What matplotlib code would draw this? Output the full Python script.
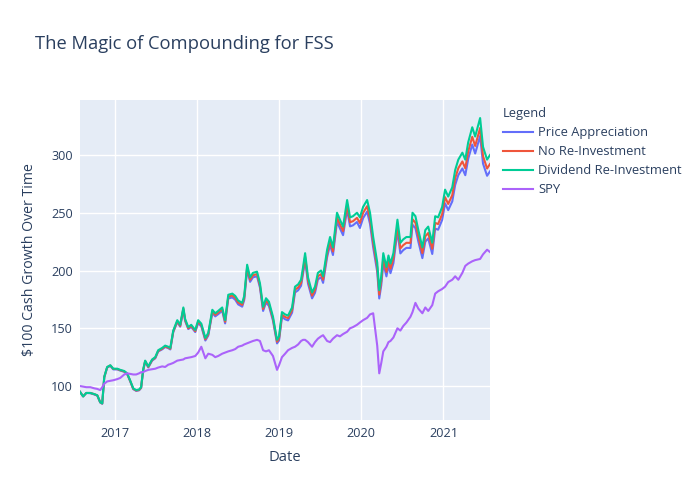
import matplotlib
matplotlib.use("Agg")
import matplotlib.pyplot as plt
import matplotlib.dates as mdates
import pandas as pd

plt.rcParams['font.family'] = ['Open Sans', 'DejaVu Sans']

dates = [
    "2016-07-28", "2016-08-11", "2016-08-25", "2016-09-12", "2016-09-30", "2016-10-13", "2016-10-26",
    "2016-11-04", "2016-11-13", "2016-11-26", "2016-12-10", "2016-12-23", "2017-01-10", "2017-01-23",
    "2017-02-10", "2017-02-23", "2017-03-08", "2017-03-22", "2017-04-04", "2017-04-17", "2017-04-26",
    "2017-05-05", "2017-05-14", "2017-05-28", "2017-06-14", "2017-06-28", "2017-07-11", "2017-07-29",
    "2017-08-11", "2017-08-25", "2017-09-03", "2017-09-16", "2017-10-04", "2017-10-17", "2017-10-31",
    "2017-11-08", "2017-11-22", "2017-12-05", "2017-12-23", "2018-01-05", "2018-01-19", "2018-02-06",
    "2018-02-19", "2018-03-09", "2018-03-22", "2018-04-04", "2018-04-22", "2018-05-05", "2018-05-19",
    "2018-06-06", "2018-06-19", "2018-07-02", "2018-07-20", "2018-07-29", "2018-08-11", "2018-08-24",
    "2018-09-06", "2018-09-24", "2018-10-07", "2018-10-21", "2018-11-03", "2018-11-16", "2018-12-04",
    "2018-12-22", "2018-12-31", "2019-01-13", "2019-01-27", "2019-02-09", "2019-02-27", "2019-03-12",
    "2019-03-26", "2019-04-08", "2019-04-17", "2019-04-26", "2019-05-09", "2019-05-27", "2019-06-09",
    "2019-06-22", "2019-07-06", "2019-07-15", "2019-08-02", "2019-08-15", "2019-08-28", "2019-09-15",
    "2019-09-28", "2019-10-12", "2019-10-30", "2019-11-12", "2019-11-25", "2019-12-13", "2019-12-26",
    "2020-01-09", "2020-01-27", "2020-02-09", "2020-02-23", "2020-03-12", "2020-03-21", "2020-03-30",
    "2020-04-08", "2020-04-22", "2020-05-01", "2020-05-10", "2020-05-23", "2020-06-10", "2020-06-23",
    "2020-07-06", "2020-07-20", "2020-08-07", "2020-08-16", "2020-08-29", "2020-09-11", "2020-09-29",
    "2020-10-12", "2020-10-25", "2020-11-12", "2020-11-25", "2020-12-08", "2020-12-26", "2021-01-08",
    "2021-01-22", "2021-02-09", "2021-02-22", "2021-03-08", "2021-03-26", "2021-04-08", "2021-04-21",
    "2021-05-09", "2021-05-22", "2021-06-13", "2021-06-26", "2021-07-14", "2021-07-27",
]

dividend_reinvest = [
    95, 91, 94, 94, 93, 92, 86,
    85, 108, 116.5, 118, 115, 115, 114,
    113, 111, 105, 98, 96.5, 97, 99,
    114, 122, 117, 123, 125, 131, 133,
    135, 134, 133, 148, 157, 153, 168,
    158, 151, 153, 148.5, 157, 154, 141.6,
    146, 166, 163, 165, 168, 157, 179,
    180, 178, 174, 172, 178, 205, 194,
    198, 199, 189, 168.5, 176, 173, 160,
    140, 143, 164, 162, 161, 168, 186,
    188, 192, 203, 215, 194, 181, 186,
    198, 200, 195, 218, 229, 220, 250,
    244, 238, 261, 246, 247, 250, 246,
    255, 261, 250, 229, 207, 183, 195,
    215, 203, 213, 206, 215, 244, 224,
    227, 229, 229, 250, 247, 235, 220,
    235, 238, 224, 247, 246, 255, 270,
    264, 272, 287, 296, 302, 296, 311,
    324, 316, 332, 307, 296, 300,
]

no_reinvest = [
    95, 91, 94, 94, 92.9, 91.9, 85.9,
    84.9, 107.8, 116.3, 117.8, 114.8, 114.7, 113.7,
    112.6, 110.6, 104.6, 97.6, 96.1, 96.6, 98.6,
    113.6, 121.6, 116.5, 122.5, 124.5, 130.4, 132.3,
    134.3, 133.3, 132.3, 147.2, 156.1, 152.1, 167,
    157, 150, 152, 147.5, 155.8, 152.8, 140.4,
    144.8, 164.6, 161.6, 163.6, 166.5, 155.6, 177.4,
    178.3, 176.3, 172.3, 170.3, 176.2, 202.9, 192,
    195.9, 196.9, 187, 166.7, 174.1, 171.1, 158.2,
    138.4, 141.1, 161.8, 159.8, 158.8, 165.7, 183.4,
    185.3, 189.2, 200, 211.9, 191.2, 178.3, 183.2,
    195, 196.9, 192, 214.6, 225.4, 216.5, 246,
    240, 234.1, 256.6, 241.8, 242.7, 245.6, 241.1,
    249.9, 255.7, 244.9, 224.3, 202.7, 179.2, 190.9,
    210.5, 198.7, 208.5, 201.6, 210.4, 238.7, 219.1,
    222, 224, 223.9, 244.4, 241.4, 229.7, 215,
    229.6, 232.5, 218.8, 241.2, 240.2, 248.9, 263.5,
    257.6, 265.3, 279.9, 288.6, 294.4, 288.5, 303.1,
    315.7, 307.8, 323.4, 299, 288.3, 292.2,
]

price_appreciation = [
    95, 91, 94, 93.8, 92.7, 91.7, 85.7,
    84.7, 107.5, 116, 117.4, 114.4, 114.4, 113.4,
    112.3, 110.3, 104.3, 97.3, 95.8, 96.3, 98.3,
    113.2, 121.1, 116.1, 122, 124, 129.9, 131.8,
    133.8, 132.8, 131.7, 146.6, 155.4, 151.4, 166.2,
    156.3, 149.3, 151.2, 146.7, 154.6, 151.6, 139.4,
    143.7, 163.3, 160.3, 162.2, 165.1, 154.2, 175.8,
    176.7, 174.7, 170.7, 168.7, 174.5, 201, 190.2,
    194.1, 195, 185.2, 165, 172.3, 169.3, 156.6,
    136.9, 139.4, 159.8, 157.8, 156.8, 163.5, 181,
    182.9, 186.8, 197.4, 209.1, 188.6, 175.9, 180.7,
    192.3, 194.2, 189.3, 211.6, 222.2, 213.4, 242.4,
    236.5, 230.6, 252.8, 238.2, 239.1, 242, 236.8,
    245.3, 251, 240.3, 220.1, 198.9, 175.8, 187.3,
    206.5, 194.9, 204.5, 197.7, 206.3, 234.1, 214.8,
    217.7, 219.6, 219.5, 239.6, 236.7, 225.1, 210.7,
    225, 227.8, 214.3, 236.3, 235.3, 243.8, 258.1,
    252.3, 259.8, 274.1, 282.6, 288.3, 282.5, 296.7,
    309, 301.3, 316.4, 292.5, 282, 285.8,
]

spy = [
    100, 99.5, 99, 99, 98, 97.5, 96.5,
    99, 102, 104, 104.5, 105, 106, 107,
    110, 111, 110.5, 110, 110, 111, 112,
    112, 113, 114, 114.5, 115, 116, 117,
    116.5, 118.5, 119, 120, 122, 122.5, 123,
    124, 124.5, 125, 126, 129, 134, 124,
    128, 127, 125, 126, 128, 129, 130,
    131, 132, 134, 135, 136, 137, 138,
    139, 140, 139, 131, 130, 131, 126,
    114, 118, 125, 128, 131, 133, 134,
    136, 139, 140, 140, 138, 134, 138,
    141, 143, 144, 139, 138, 141, 144,
    143, 145, 147, 150, 151, 153, 155,
    157, 159, 162, 163, 135, 111, 120,
    130, 134, 138, 139, 142, 150, 148,
    152, 155, 160, 164, 172, 167, 163,
    168, 165, 170, 180, 182, 184, 186,
    190, 192, 195, 192, 198, 204, 206,
    208, 209, 210, 214, 218, 216,
]

series_names = ["Price Appreciation", "No Re-Investment", "Dividend Re-Investment", "SPY"]
colors = ["#636efa", "#EF553B", "#00cc96", "#ab63fa"]

x = pd.to_datetime(dates)

fig = plt.figure(figsize=(7, 5), dpi=100)
ax = fig.add_axes([80 / 700, 1 - 420 / 500, 410 / 700, 320 / 500])
ax.set_facecolor("#E5ECF6")

for vals, name, c in zip([price_appreciation, no_reinvest, dividend_reinvest, spy], series_names, colors):
    ax.plot(x, vals, color=c, lw=1.5, label=name, solid_joinstyle="round")

ax.set_xlim(x[0], x[-1])
ax.set_ylim(70.6, 347.6)
ax.set_yticks([100, 150, 200, 250, 300])
ax.xaxis.set_major_locator(mdates.YearLocator())
ax.xaxis.set_major_formatter(mdates.DateFormatter("%Y"))
ax.grid(True, color="white", lw=1)
ax.set_axisbelow(True)
for s in ax.spines.values():
    s.set_visible(False)
ax.tick_params(length=0, labelsize=9.1, colors="#2a3f5f", pad=5)

ax.set_xlabel("Date", fontsize=10.6, color="#2a3f5f", labelpad=7)
ax.set_ylabel("$100 Cash Growth Over Time", fontsize=10.2, color="#2a3f5f", labelpad=10)

fig.text(35 / 700, 1 - 44 / 500, "The Magic of Compounding for FSS", fontsize=13.2,
         color="#2a3f5f", va="center", ha="left")

leg = ax.legend(loc="upper left", bbox_to_anchor=(494 / 700, 1 - 98 / 500), bbox_transform=fig.transFigure,
                frameon=False, title="Legend", fontsize=9.3, title_fontsize=9.3,
                handlelength=2.3, handletextpad=0.4, labelspacing=0.47, borderpad=0.2)
leg._legend_box.align = "left"
for t in leg.get_texts():
    t.set_color("#2a3f5f")
leg.get_title().set_color("#2a3f5f")

fig.savefig("out.png", dpi=100)
